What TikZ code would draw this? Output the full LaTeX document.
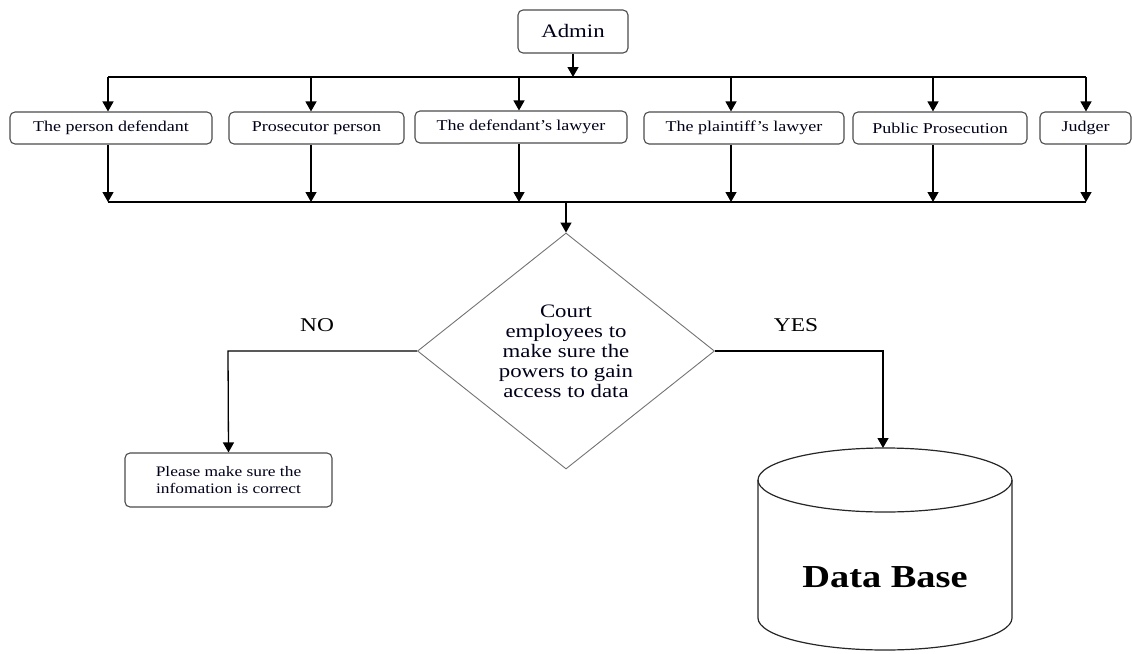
\documentclass[tikz,border=0pt]{standalone}
\usepackage{fontspec}
\setmainfont{Liberation Serif}[FakeStretch=1.2]
\usetikzlibrary{shapes.geometric,arrows.meta}
\begin{document}
\begin{tikzpicture}[x=1pt,y=-1pt,
  rbox/.style={draw=black!70,line width=1.1pt,rounded corners=5pt,inner sep=0pt,
    font=\fontsize{15}{18}\selectfont,text=black!90!blue},
  conn/.style={draw=black,line width=1.3pt},
  arr/.style={conn,-{Triangle[width=11pt,length=10pt]}},
  lbl/.style={font=\fontsize{19.5}{22}\selectfont,inner sep=0pt}
]
\useasboundingbox (0,0) rectangle (1132,653);
% Admin
\node[rbox,minimum width=110pt,minimum height=43pt,font=\fontsize{19}{22}\selectfont] (admin) at (573,31.5) {Admin};
% role boxes
\node[rbox,minimum width=202pt,minimum height=32pt] (b1) at (111,128) {The person defendant};
\node[rbox,minimum width=175pt,minimum height=32pt] (b2) at (316.5,128) {Prosecutor person};
\node[rbox,minimum width=212pt,minimum height=32pt] (b3) at (521,127) {The defendant's lawyer};
\node[rbox,minimum width=200pt,minimum height=32pt] (b4) at (744,128) {The plaintiff's lawyer};
\node[rbox,minimum width=174pt,minimum height=32pt] (b5) at (940,128) {Public Prosecution};
\node[rbox,minimum width=91pt,minimum height=32pt] (b6) at (1085.5,128) {Judger};
% top distribution line
\coordinate (t0) at (573,77);
\coordinate (t1) at (108,77);
\coordinate (t2) at (311,77);
\coordinate (t3) at (519,77);
\coordinate (t4) at (731,77);
\coordinate (t5) at (933,77);
\coordinate (t6) at (1086,77);
\draw[arr] (admin.south) -- (t0);
\draw[conn] (t1) -- (t6);
\foreach \i in {1,...,6}{\draw[arr] (t\i) -- (t\i |- b\i.north);}
% bottom collecting line
\coordinate (u1) at (108,202);
\coordinate (u2) at (311,202);
\coordinate (u3) at (519,202);
\coordinate (u4) at (731,202);
\coordinate (u5) at (933,202);
\coordinate (u6) at (1086,202);
\coordinate (um) at (566,202);
\foreach \i in {1,...,6}{\draw[arr] (u\i |- b\i.south) -- (u\i);}
\draw[conn] (u1) -- (u6);
% decision
\node[diamond,draw=black!55,line width=0.9pt,minimum width=297pt,minimum height=236pt,inner sep=0pt,
  align=center,font=\fontsize{19}{20}\selectfont,text=black!90!blue] (dec) at (566,351)
  {Court\\employees to\\make sure the\\powers to gain\\access to data};
\draw[arr] (um) -- (dec.north);
% NO branch
\node[rbox,minimum width=207pt,minimum height=54pt,align=center,font=\fontsize{14.5}{17}\selectfont] (chk) at (228.5,480)
  {Please make sure the\\infomation is correct};
\coordinate (nocorner) at (228,351);
\draw[arr] (dec.west) -- (nocorner) -- (chk.north);
\node[lbl] (no) at (317,325) {NO};
% YES branch
\coordinate (dbtop) at (883,448);
\coordinate (yescorner) at (883,351);
\draw[arr] (dec.east) -- (yescorner) -- (dbtop);
\node[lbl] (yes) at (796,325) {YES};
% database cylinder
\draw[black!85,line width=1.2pt] (758,480) -- (758,618)
  arc[start angle=180,end angle=0,x radius=127,y radius=32] -- (1012,480)
  arc[start angle=0,end angle=-180,x radius=127,y radius=32];
\draw[black!85,line width=1.2pt] (758,480) arc[start angle=180,end angle=0,x radius=127,y radius=32];
\node[font=\fontsize{32}{38}\selectfont\bfseries,inner sep=0pt] (db) at (885,577) {Data Base};
\end{tikzpicture}
\end{document}
